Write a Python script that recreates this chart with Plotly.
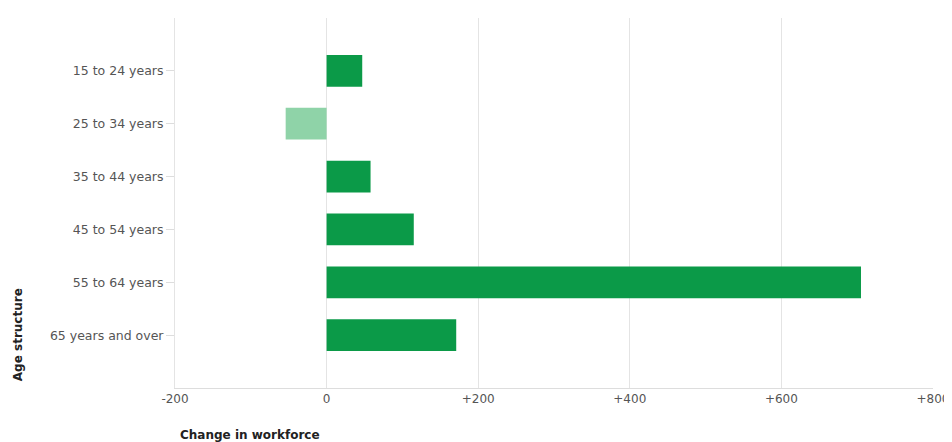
import plotly.graph_objects as go

categories = ["15 to 24 years", "25 to 34 years", "35 to 44 years",
              "45 to 54 years", "55 to 64 years", "65 years and over"]
values = [47, -54, 58, 115, 705, 171]
tick_vals = [-200, 0, 200, 400, 600, 800]
tick_text = ["-200", "0", "+200", "+400", "+600", "+800"]

colors = ["#8fd3a8" if v < 0 else "#0b9a48" for v in values]

fig = go.Figure(go.Bar(
    y=categories, x=values, orientation="h",
    marker=dict(color=colors, line=dict(width=0)),
    width=0.6,
))

# page body has an 8px margin, so the figure is sized/offset to compensate
fig.update_layout(
    width=944, height=434,
    margin=dict(l=167, r=19, t=10, b=54, autoexpand=False),
    paper_bgcolor="white", plot_bgcolor="white",
    font=dict(family="DejaVu Sans, Verdana, sans-serif", size=12.5, color="#444444"),
    showlegend=False,
    xaxis=dict(
        range=[-200, 800], tickvals=tick_vals, ticktext=tick_text,
        showgrid=True, gridcolor="#e4e4e4", gridwidth=1,
        zeroline=False, showline=True, linecolor="#dddddd",
        ticks="", tickfont=dict(size=12, color="#555555"),
        automargin=False,
    ),
    yaxis=dict(
        categoryorder="array", categoryarray=categories,
        autorange=False, range=[6, -1],
        showgrid=False, zeroline=False, showline=True, linecolor="#e4e4e4",
        ticks="outside", ticklen=8, tickcolor="#dddddd",
        tickfont=dict(size=12.5, color="#555555"),
        automargin=False,
    ),
    annotations=[
        dict(text="<b>Change in workforce</b>", xref="paper", yref="paper",
             x=0.004, y=-0.102, xanchor="left", yanchor="top", showarrow=False,
             font=dict(size=12, color="#222222")),
        dict(text="<b>Age structure</b>", xref="paper", yref="paper",
             x=-0.207, y=0.143, xanchor="center", yanchor="middle", showarrow=False,
             textangle=-90, font=dict(size=12, color="#222222")),
    ],
)

fig.write_html("out.html")
